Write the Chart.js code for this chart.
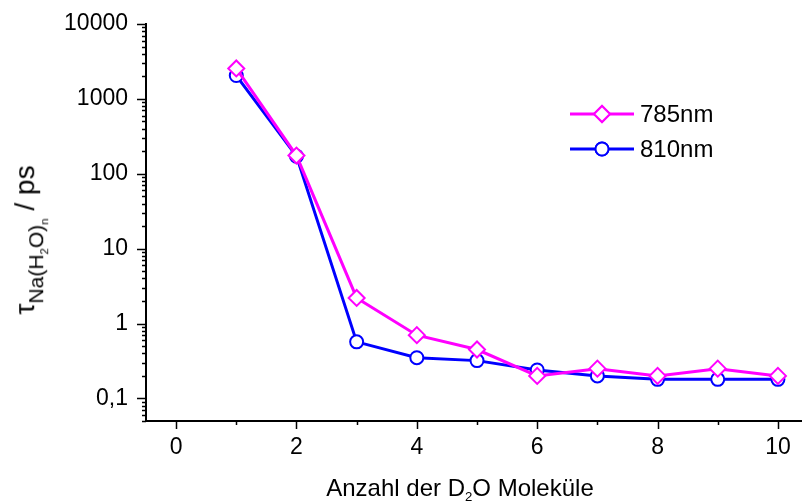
<!DOCTYPE html>
<html lang="de">
<head>
    <meta charset="UTF-8">
    <title>Lebensdauer Na(H2O)n</title>
    <script src="https://cdn.jsdelivr.net/npm/chart.js"></script>
    <style>
        body {
            margin: 0;
            background: #fff;
            font-family: Arial, "Liberation Sans", sans-serif;
        }
        .wrap {
            position: relative;
            width: 802px;
            height: 503px;
        }
        canvas {
            position: absolute;
            left: 0;
            top: 0;
        }
        .xtitle {
            position: absolute;
            left: 460px;
            top: 474px;
            transform: translateX(-50%);
            font-size: 24px;
            white-space: nowrap;
            color: #000;
        }
        .ytitle {
            position: absolute;
            left: 31px;
            top: 240px;
            transform: translate(-50%, -50%) rotate(-90deg);
            font-size: 28px;
            white-space: nowrap;
            color: #000;
            line-height: 1;
        }
        .xtitle sub { font-size: 0.55em; vertical-align: -0.35em; }
        .ytitle sub { font-size: 0.75em; vertical-align: -0.45em; }
        .ytitle sub sub { font-size: 0.55em; vertical-align: -0.4em; }
    </style>
</head>
<body>
<div class="wrap">
    <canvas id="tauChart" width="802" height="503"></canvas>
    <div class="xtitle">Anzahl der D<sub>2</sub>O Moleküle</div>
    <div class="ytitle">τ<sub>Na(H<sub>2</sub>O)<sub>n</sub></sub> / ps</div>
</div>

<script>
    // Anzahl der Moleküle (x) und Lebensdauern in ps
    const molecules = [1, 2, 3, 4, 5, 6, 7, 8, 9, 10];
    const tau785 = [2550, 175, 2.2, 0.7, 0.45, 0.2, 0.25, 0.2, 0.25, 0.2];
    const tau810 = [2050, 172, 0.57, 0.35, 0.32, 0.24, 0.2, 0.18, 0.18, 0.18];
    const seriesLabels = ['785nm', '810nm'];
    const xTicks = [0, 1, 2, 3, 4, 5, 6, 7, 8, 9, 10];
    const yDecades = [0.1, 1, 10, 100, 1000, 10000];

    const MAGENTA = '#ff00ff';
    const BLUE = '#0000ff';

    // minor ticks + legend inside the plot
    const extras = {
        id: 'extras',
        afterDraw(chart) {
            const ctx = chart.ctx;
            const area = chart.chartArea;
            const xs = chart.scales.x, ys = chart.scales.y;
            ctx.save();
            ctx.strokeStyle = '#000';
            ctx.lineWidth = 1.5;
            ctx.beginPath();
            ys.ticks.forEach(t => {
                const y = Math.round(ys.getPixelForValue(t.value)) + 0.5;
                const len = t.major ? 9 : 4;
                ctx.moveTo(area.left - len, y);
                ctx.lineTo(area.left, y);
            });
            xs.ticks.forEach(t => {
                const x = Math.round(xs.getPixelForValue(t.value)) + 0.5;
                const len = t.value % 2 === 0 ? 8 : 4;
                ctx.moveTo(x, area.bottom);
                ctx.lineTo(x, area.bottom + len);
            });
            ctx.stroke();

            // legend
            const rows = [
                { y: 114, color: MAGENTA, style: 'rectRot', r: 8 },
                { y: 149, color: BLUE, style: 'circle', r: 6.5 }
            ];
            ctx.font = '24px Arial, "Liberation Sans", sans-serif';
            ctx.textBaseline = 'middle';
            rows.forEach((row, i) => {
                ctx.strokeStyle = row.color;
                ctx.lineWidth = 3;
                ctx.beginPath();
                ctx.moveTo(570, row.y);
                ctx.lineTo(634, row.y);
                ctx.stroke();
                ctx.fillStyle = '#fff';
                ctx.lineWidth = 2;
                Chart.helpers.drawPoint(ctx, {
                    pointStyle: row.style, radius: row.r, borderWidth: 2, rotation: 0
                }, 602, row.y);
                ctx.fill();
                ctx.stroke();
                ctx.fillStyle = '#000';
                ctx.fillText(seriesLabels[i], 640, row.y + 1);
            });
            ctx.restore();
        }
    };

    const toPoints = vals => molecules.map((m, i) => ({ x: m, y: vals[i] }));

    new Chart(document.getElementById('tauChart'), {
        type: 'line',
        data: {
            datasets: [
                {
                    label: seriesLabels[0],
                    data: toPoints(tau785),
                    borderColor: MAGENTA,
                    backgroundColor: '#fff',
                    borderWidth: 3,
                    pointStyle: 'rectRot',
                    pointRadius: 8,
                    pointBorderWidth: 2,
                    pointBackgroundColor: '#fff',
                    pointBorderColor: MAGENTA,
                    tension: 0
                },
                {
                    label: seriesLabels[1],
                    data: toPoints(tau810),
                    borderColor: BLUE,
                    backgroundColor: '#fff',
                    borderWidth: 3,
                    pointStyle: 'circle',
                    pointRadius: 6.5,
                    pointBorderWidth: 2,
                    pointBackgroundColor: '#fff',
                    pointBorderColor: BLUE,
                    tension: 0
                }
            ]
        },
        options: {
            responsive: false,
            animation: false,
            devicePixelRatio: 1,
            layout: { autoPadding: false, padding: { top: 24, right: 0, left: 0, bottom: 0 } },
            plugins: {
                legend: { display: false },
                tooltip: { enabled: false }
            },
            scales: {
                x: {
                    type: 'linear',
                    min: -0.5,
                    max: 10.4,
                    afterBuildTicks: s => { s.ticks = xTicks.map(v => ({ value: v })); },
                    afterFit: s => {
                        s.height = 82;
                        s.paddingLeft = 0;
                        s.paddingRight = 0;
                    },
                    grid: { display: true, drawOnChartArea: false, drawTicks: false },
                    border: { display: true, color: '#000', width: 2 },
                    ticks: {
                        autoSkip: false,
                        maxRotation: 0,
                        padding: 13,
                        color: '#000',
                        font: { family: 'Arial, "Liberation Sans", sans-serif', size: 23 },
                        callback: v => (v % 2 === 0 ? String(v) : '')
                    }
                },
                y: {
                    type: 'logarithmic',
                    min: 0.05,
                    max: 10000,
                    afterBuildTicks: s => {
                        const t = [];
                        [0.01].concat(yDecades).forEach(d => {
                            for (let m = 1; m <= 9; m++) {
                                const v = +(m * d).toPrecision(3);
                                if (v >= 0.05 && v <= 10000) t.push({ value: v, major: m === 1 });
                            }
                        });
                        s.ticks = t;
                    },
                    afterFit: s => {
                        s.width = 146;
                        s.paddingTop = 0;
                        s.paddingBottom = 0;
                    },
                    grid: { display: true, drawOnChartArea: false, drawTicks: false },
                    border: { display: true, color: '#000', width: 2 },
                    ticks: {
                        autoSkip: false,
                        padding: 18,
                        color: '#000',
                        font: { family: 'Arial, "Liberation Sans", sans-serif', size: 23 },
                        callback: v => (yDecades.includes(v) ? String(v).replace('.', ',') : '')
                    }
                }
            }
        },
        plugins: [extras]
    });
</script>
</body>
</html>
